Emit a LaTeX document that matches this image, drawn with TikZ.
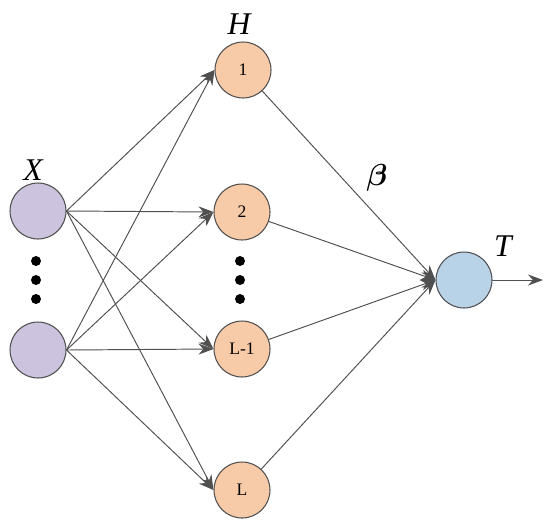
\documentclass[tikz,border=0pt]{standalone}
\usepackage{amsmath,amssymb}
\usepackage{fontspec}
\setmainfont{Liberation Serif}
\usepackage{tikz}
\usetikzlibrary{arrows.meta,positioning}
\definecolor{inputfill}{HTML}{CCC3DE}
\definecolor{hiddenfill}{HTML}{F8CBA8}
\definecolor{outputfill}{HTML}{B8D2E8}
\definecolor{edgegray}{HTML}{505050}
\tikzset{
  every picture/.append style={line cap=round,line join=round},
  elm neuron/.style={circle,draw=edgegray,line width=0.6pt,minimum size=1.12cm,inner sep=0pt,font=\normalsize},
  elm input/.style={elm neuron,fill=inputfill},
  elm hidden/.style={elm neuron,fill=hiddenfill},
  elm output/.style={elm neuron,fill=outputfill},
  elm edge/.style={edgegray,line width=0.55pt,-{Stealth[length=3mm,width=2.2mm]}},
  elm dot/.style={circle,fill=black,inner sep=0pt,minimum size=2mm},
  elm label/.style={font=\fontsize{18}{20}\selectfont\itshape}
}

\begin{document}
\begin{tikzpicture}[x=0.02cm,y=-0.02cm]
\useasboundingbox (0,0) rectangle (550,525);

% input layer
\node[elm input] (in1) at (38,211) {};
\node[elm input] (in2) at (38,350) {};
\node[elm dot] (indot1) at (36,261) {};
\node[elm dot] (indot2) at (36,280) {};
\node[elm dot] (indot3) at (36,299) {};
\node[elm label] (xlab) at (33,170) {X};

% hidden layer
\node[elm hidden] (hid1) at (243,70) {1};
\node[elm hidden] (hid2) at (242,212) {2};
\node[elm hidden] (hidl1) at (242,349) {L-1};
\node[elm hidden] (hidl) at (242,490) {L};
\node[elm dot] (hdot1) at (240,261) {};
\node[elm dot] (hdot2) at (240,280) {};
\node[elm dot] (hdot3) at (240,299) {};
\node[elm label] (hlab) at (239,24) {H};

% output
\node[elm output] (out) at (464,280) {};
\node[elm label] (tlab) at (503,246) {T};
\coordinate (outend) at (543,280);
\node[elm label] (blab) at (377,178) {$\boldsymbol{\beta}$};

\foreach \s in {in1,in2}
  \foreach \t in {hid1,hid2,hidl1,hidl}
    \draw[elm edge] (\s.east) -- (\t.west);
\foreach \s in {hid1,hid2,hidl1,hidl}
  \draw[elm edge] (\s) -- (out.west);
\draw[elm edge] (out) -- (outend);
\end{tikzpicture}
\end{document}
